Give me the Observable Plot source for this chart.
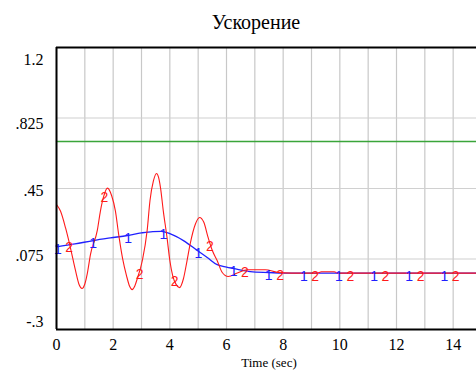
<!DOCTYPE html>
<html>
<head>
<meta charset="utf-8">
<script src="https://cdn.jsdelivr.net/npm/d3@7"></script>
<script src="https://cdn.jsdelivr.net/npm/@observablehq/plot@0.6"></script>
<style>
  html, body { margin: 0; padding: 0; background: #fff; overflow: hidden; }
  #wrap { position: relative; width: 476px; height: 372px; }
  #title { position: absolute; left: 18px; top: 0; width: 476px; height: 40px; text-align: center;
           font-family: 'Liberation Serif'; font-size: 20px; line-height: 44px; color: #000; }
  #chart { position: absolute; left: 0; top: 40px; }
</style>
</head>
<body>
<div id="wrap">
  <div id="title"></div>
  <div id="chart"></div>
</div>
<script>
// ---- data ----
const titleText = "Ускорение";
const xLabel = "Time (sec)";
const yTicks = [-0.3, 0.075, 0.45, 0.825, 1.2];
const yTickLabels = ["-.3", ".075", ".45", ".825", "1.2"];
const xTicks = [0, 2, 4, 6, 8, 10, 12, 14];
const xGrid = [0, 1, 2, 3, 4, 5, 6, 7, 8, 9, 10, 11, 12, 13, 14, 15];

// series 1 (blue)
const blueT = [0, 0.65, 1.3, 1.9, 2.5, 3.0, 3.4, 3.7, 4.0, 4.48, 4.97, 5.32, 5.67, 6.0, 6.24, 6.84, 7.5, 8.0, 15];
const blueV = [0.14, 0.155, 0.173, 0.187, 0.2, 0.214, 0.221, 0.222, 0.21, 0.173, 0.12, 0.083, 0.045, 0.032, 0.025, 0.008, 0.003, 0.0, 0.0];
// series 2 (red)
const redT = [0, 0.14, 0.32, 0.49, 0.67, 0.8, 0.9, 1.0, 1.09, 1.2, 1.44, 1.55, 1.66, 1.8, 1.95, 2.08, 2.19, 2.33, 2.47, 2.58, 2.67, 2.76, 2.85, 3.03, 3.2, 3.3, 3.42, 3.53, 3.6, 3.67, 3.77, 3.9, 4.0, 4.1, 4.22, 4.34, 4.48, 4.6, 4.72, 4.9, 5.05, 5.2, 5.35, 5.5, 5.67, 5.85, 6.06, 6.38, 6.73, 7.37, 7.8, 8.3, 9.2, 9.35, 9.8, 9.95, 15];
const redV = [0.365, 0.33, 0.24, 0.136, 0.014, -0.062, -0.082, -0.058, 0.0, 0.1, 0.227, 0.33, 0.405, 0.452, 0.41, 0.33, 0.21, 0.08, -0.013, -0.07, -0.088, -0.07, -0.03, 0.067, 0.227, 0.386, 0.49, 0.53, 0.51, 0.455, 0.33, 0.19, 0.067, -0.013, -0.06, -0.077, -0.03, 0.06, 0.157, 0.26, 0.296, 0.27, 0.19, 0.12, 0.067, 0.003, -0.018, 0.0, 0.018, 0.018, 0.004, 0.0, 0.0, 0.007, 0.007, 0.0, 0.0];
// series 3 (green, constant)
const greenT = [0, 15];
const greenV = [0.7, 0.7];

// line markers
const blueMarkT = [0.05, 1.29, 2.53, 3.77, 5.01, 6.25, 7.49, 8.73, 9.97, 11.21, 12.45, 13.69];
const blueMarkV = [0.14, 0.172, 0.2, 0.222, 0.12, 0.025, 0.003, 0, 0, 0, 0, 0];
const redMarkT = [0.45, 1.69, 2.93, 4.17, 5.41, 6.65, 7.89, 9.13, 10.37, 11.61, 12.85, 14.09];
const redMarkV = [0.15, 0.42, 0.01, -0.03, 0.16, 0.018, 0.004, 0, 0, 0, 0, 0];

// ---- build ----
document.getElementById("title").textContent = titleText;
const zip = (t, v) => t.map((d, i) => ({t: d, v: v[i]}));
const blue = zip(blueT, blueV), red = zip(redT, redV), green = zip(greenT, greenV);
const blueM = zip(blueMarkT, blueMarkV), redM = zip(redMarkT, redMarkV);

const yLabelDy = [-8, -3, 2, 6, 12];
const serif = "Liberation Serif";
const sans = "Liberation Sans";

const chart = Plot.plot({
  width: 476,
  height: 332,
  marginTop: 7,
  marginBottom: 43,
  marginLeft: 56,
  marginRight: -5,
  style: {background: "transparent", overflow: "visible"},
  x: {domain: [0, 15]},
  y: {domain: [-0.3, 1.2]},
  marks: [
    Plot.gridX(xGrid, {stroke: "#c8c8c8", strokeOpacity: 1, strokeWidth: 1.2}),
    Plot.gridY(yTicks, {stroke: "#d0d0d0", strokeOpacity: 1, strokeWidth: 1.2}),
    Plot.line(green, {x: "t", y: "v", stroke: "#3aa53a", strokeWidth: 1.3}),
    Plot.line(blue, {x: "t", y: "v", stroke: "#2020ff", strokeWidth: 1.3, curve: "monotone-x"}),
    Plot.line(red, {x: "t", y: "v", stroke: "#ff1a1a", strokeWidth: 1.1, curve: "monotone-x"}),
    Plot.text(blueM, {x: "t", y: "v", text: () => "1", fill: "#2020ff", fontSize: 14, fontFamily: sans, dy: 3}),
    Plot.text(redM, {x: "t", y: "v", text: () => "2", fill: "#ff1a1a", fontSize: 14, fontFamily: sans, dy: 3}),
    Plot.ruleX([0], {stroke: "#000", strokeWidth: 2}),
    Plot.ruleY([1.2], {stroke: "#000", strokeWidth: 2}),
    Plot.ruleY([-0.3], {stroke: "#000", strokeWidth: 2}),
    ...yTicks.map((v, i) => Plot.axisY([v], {
      tickSize: 0, tickPadding: 13, fontSize: 16, fontFamily: serif, fill: "#000",
      tickFormat: () => yTickLabels[i], dy: yLabelDy[i], label: null
    })),
    Plot.axisX(xTicks, {tickSize: 0, tickPadding: 9, fontSize: 16, fontFamily: serif, fill: "#000", tickFormat: d => String(d), label: null}),
    Plot.text([xLabel], {frameAnchor: "bottom", dy: 37, fontSize: 13, fontFamily: serif, fill: "#000"})
  ]
});
document.getElementById("chart").appendChild(chart);
</script>
</body>
</html>
